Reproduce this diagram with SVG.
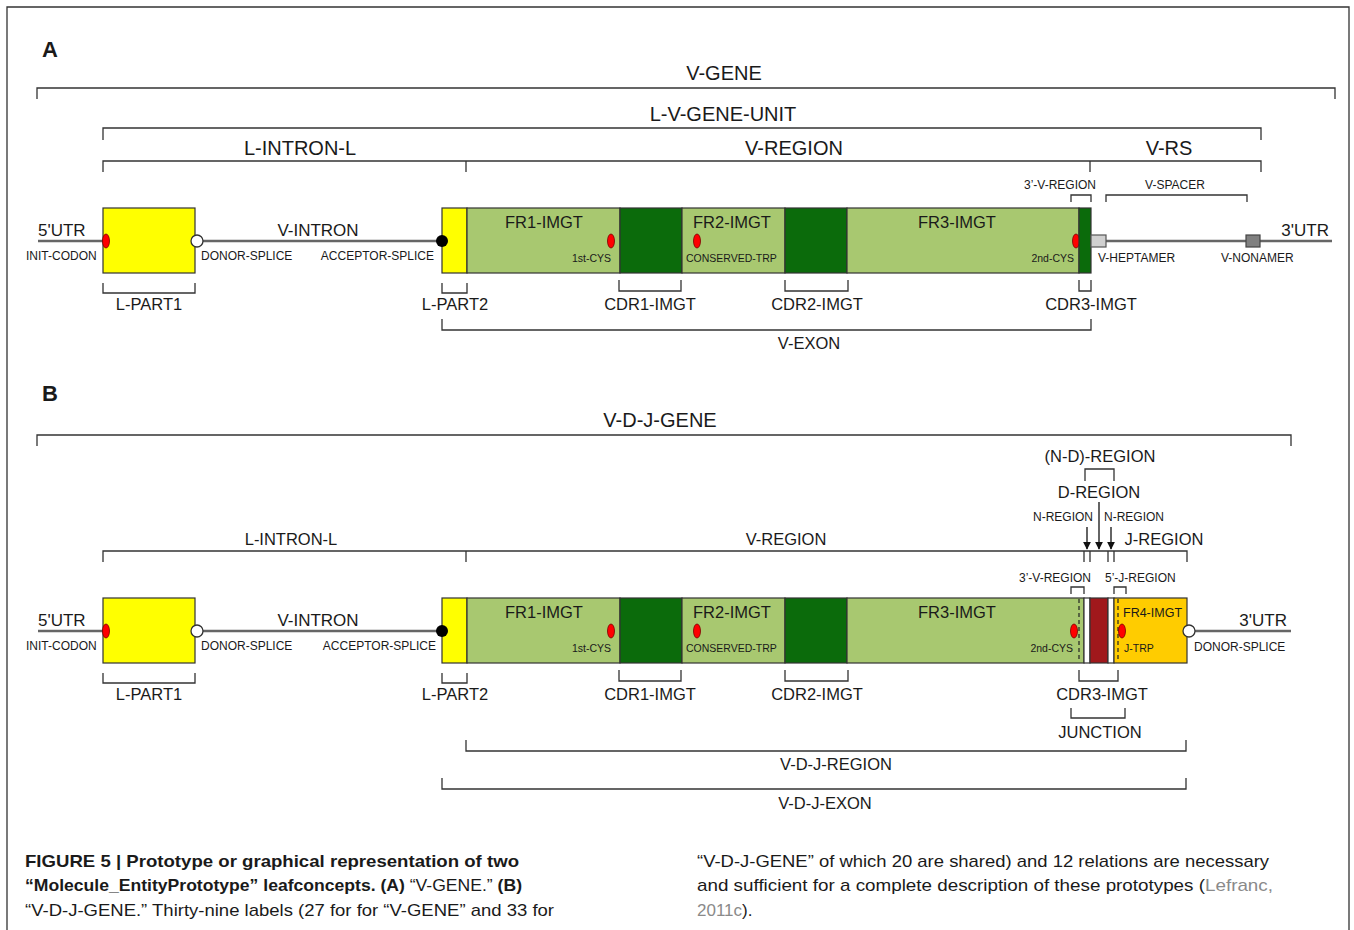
<svg xmlns="http://www.w3.org/2000/svg" width="1354" height="930" viewBox="0 0 1354 930">
<defs>
<style>
text{font-family:"Liberation Sans",Arial,sans-serif;fill:#1a1a1a}
.big{font-size:20px}
.mid{font-size:16.5px}
.sm{font-size:12px}
.xs{font-size:10.5px}
.c{text-anchor:middle}
.e{text-anchor:end}
.br{fill:none;stroke:#333;stroke-width:1.3}
.gl{stroke:#666;stroke-width:2.5}
.box{stroke:#333;stroke-width:1.2}
.yel{fill:#ffff00}
.lg{fill:#a8c870}
.dg{fill:#0b6b0b}
.red{fill:#ff0000;stroke:#7a0000;stroke-width:0.8}
.dash{stroke:#222;stroke-width:1.2;stroke-dasharray:4 3}
.cap{font-size:17px}
.bold{font-weight:bold}
.grey{fill:#8a8a8a}
</style>
<marker id="ah" viewBox="0 0 10 10" refX="9" refY="5" markerWidth="6" markerHeight="6" orient="auto">
<path d="M0,0 L10,5 L0,10 z" fill="#111"/>
</marker>
</defs>
<rect x="0" y="0" width="1354" height="930" fill="#fff"/>
<path d="M7,935 V7 H1349 V935" fill="none" stroke="#333" stroke-width="1.3"/>

<!-- ============ PANEL A ============ -->
<text x="42" y="57" style="font-size:22px;font-weight:bold">A</text>

<g id="connectors-A">
<line class="gl" x1="38" y1="241" x2="1332" y2="241"/>
<path class="br" d="M37,99 V88 H1335 V99"/>
<path class="br" d="M103,140 V128 H1261 V140"/>
<path class="br" d="M103,172 V161 H1261 V172 M466,161 V172 M1090,161 V172"/>
<path class="br" d="M1071,202 V195 H1091 V202"/>
<path class="br" d="M1106,202 V195 H1247 V202"/>
<path class="br" d="M103,283 V293 H195 V283"/>
<path class="br" d="M442,283 V293 H467 V283"/>
<path class="br" d="M619,280 V291 H681 V280"/>
<path class="br" d="M785,280 V291 H848 V280"/>
<path class="br" d="M1079,280 V291 H1091 V280"/>
<path class="br" d="M442,319 V330 H1091 V319"/>
</g>

<g id="labels-A">
<text class="big c" x="724" y="80">V-GENE</text>
<text class="big c" x="723" y="121">L-V-GENE-UNIT</text>
<text class="big c" x="300" y="155">L-INTRON-L</text>
<text class="big c" x="794" y="155">V-REGION</text>
<text class="big c" x="1169" y="155">V-RS</text>
<text class="sm c" x="1060" y="189">3’-V-REGION</text>
<text class="sm c" x="1175" y="189">V-SPACER</text>
<text class="mid" x="38" y="236" style="font-size:17px">5'UTR</text>
<text class="sm" x="26" y="260">INIT-CODON</text>
<text class="sm" x="201" y="260">DONOR-SPLICE</text>
<text class="mid c" x="318" y="236" style="font-size:17px">V-INTRON</text>
<text class="sm e" x="434" y="260">ACCEPTOR-SPLICE</text>
<text class="sm" x="1098" y="262">V-HEPTAMER</text>
<text class="sm" x="1221" y="262">V-NONAMER</text>
<text class="mid e" x="1329" y="236" style="font-size:17px">3'UTR</text>
<text class="mid c" x="149" y="310">L-PART1</text>
<text class="mid c" x="455" y="310">L-PART2</text>
<text class="mid c" x="650" y="310">CDR1-IMGT</text>
<text class="mid c" x="817" y="310">CDR2-IMGT</text>
<text class="mid c" x="1091" y="310">CDR3-IMGT</text>
<text class="mid c" x="809" y="349">V-EXON</text>
</g>

<g id="A-lpart1">
<rect class="box yel" x="103" y="208" width="92" height="65"/>
<ellipse class="red" cx="106" cy="241" rx="3.5" ry="7"/>
<circle cx="197" cy="241" r="6" fill="#fff" stroke="#333" stroke-width="1.3"/>
</g>
<g id="A-lpart2">
<rect class="box yel" x="442" y="208" width="25" height="65"/>
<circle cx="442" cy="241" r="6" fill="#000"/>
</g>
<g id="A-fr1">
<rect class="box lg" x="467" y="208" width="153" height="65"/>
<text class="mid c" x="544" y="228">FR1-IMGT</text>
<ellipse class="red" cx="611" cy="241" rx="3.5" ry="7"/>
<text class="xs e" x="611" y="262">1st-CYS</text>
</g>
<g id="A-cdr1"><rect class="box dg" x="620" y="208" width="62" height="65"/></g>
<g id="A-fr2">
<rect class="box lg" x="682" y="208" width="103" height="65"/>
<text class="mid c" x="732" y="228">FR2-IMGT</text>
<ellipse class="red" cx="697" cy="241" rx="3.5" ry="7"/>
<text class="xs" x="686" y="262">CONSERVED-TRP</text>
</g>
<g id="A-cdr2"><rect class="box dg" x="785" y="208" width="62" height="65"/></g>
<g id="A-fr3">
<rect class="box lg" x="847" y="208" width="232" height="65"/>
<text class="mid c" x="957" y="228">FR3-IMGT</text>
<ellipse class="red" cx="1076" cy="241" rx="3.5" ry="7"/>
<text class="xs e" x="1074" y="262">2nd-CYS</text>
</g>
<g id="A-cdr3"><rect class="box dg" x="1079" y="208" width="12" height="65"/></g>
<g id="A-heptamer"><rect x="1091" y="235" width="15" height="12" fill="#d0d0d0" stroke="#555" stroke-width="1.2"/></g>
<g id="A-nonamer"><rect x="1246" y="235" width="14" height="12" fill="#808080" stroke="#444" stroke-width="1.2"/></g>

<!-- ============ PANEL B ============ -->
<text x="42" y="401" style="font-size:22px;font-weight:bold">B</text>

<g id="connectors-B">
<line class="gl" x1="38" y1="631" x2="1291" y2="631"/>
<path class="br" d="M37,446 V435 H1291 V446"/>
<path class="br" d="M1085,481 V469 H1114 V481"/>
<path class="br" d="M103,562 V551 H1187 V562 M466,551 V562 M1084,551 V562 M1090,551 V562 M1108,551 V562 M1114,551 V562"/>
<path class="br" d="M1071,594 V587 H1084 V594"/>
<path class="br" d="M1114,594 V587 H1126 V594"/>
<line x1="1087" y1="527" x2="1087" y2="549" stroke="#111" stroke-width="1.3" marker-end="url(#ah)"/>
<line x1="1099" y1="502" x2="1099" y2="549" stroke="#111" stroke-width="1.3" marker-end="url(#ah)"/>
<line x1="1111" y1="527" x2="1111" y2="549" stroke="#111" stroke-width="1.3" marker-end="url(#ah)"/>
<path class="br" d="M103,673 V683 H195 V673"/>
<path class="br" d="M442,673 V683 H467 V673"/>
<path class="br" d="M619,670 V681 H681 V670"/>
<path class="br" d="M785,670 V681 H848 V670"/>
<path class="br" d="M1079,670 V681 H1118 V670"/>
<path class="br" d="M1071,708 V718 H1125 V708"/>
<path class="br" d="M466,740 V751 H1186 V740"/>
<path class="br" d="M442,778 V789 H1186 V778"/>
</g>

<g id="labels-B">
<text class="big c" x="660" y="427">V-D-J-GENE</text>
<text class="mid c" x="1100" y="462">(N-D)-REGION</text>
<text class="mid c" x="1099" y="498">D-REGION</text>
<text class="sm e" x="1093" y="521">N-REGION</text>
<text class="sm" x="1104" y="521">N-REGION</text>
<text class="mid c" x="291" y="545">L-INTRON-L</text>
<text class="mid c" x="786" y="545">V-REGION</text>
<text class="mid c" x="1164" y="545">J-REGION</text>
<text class="sm e" x="1091" y="582">3’-V-REGION</text>
<text class="sm" x="1105" y="582">5’-J-REGION</text>
<text class="mid" x="38" y="626" style="font-size:17px">5'UTR</text>
<text class="sm" x="26" y="650">INIT-CODON</text>
<text class="sm" x="201" y="650">DONOR-SPLICE</text>
<text class="mid c" x="318" y="626" style="font-size:17px">V-INTRON</text>
<text class="sm e" x="436" y="650">ACCEPTOR-SPLICE</text>
<text class="mid e" x="1287" y="626" style="font-size:17px">3'UTR</text>
<text class="sm" x="1194" y="651">DONOR-SPLICE</text>
<text class="mid c" x="149" y="700">L-PART1</text>
<text class="mid c" x="455" y="700">L-PART2</text>
<text class="mid c" x="650" y="700">CDR1-IMGT</text>
<text class="mid c" x="817" y="700">CDR2-IMGT</text>
<text class="mid c" x="1102" y="700">CDR3-IMGT</text>
<text class="mid c" x="1100" y="738">JUNCTION</text>
<text class="mid c" x="836" y="770">V-D-J-REGION</text>
<text class="mid c" x="825" y="809">V-D-J-EXON</text>
</g>

<g id="B-lpart1">
<rect class="box yel" x="103" y="598" width="92" height="65"/>
<ellipse class="red" cx="106" cy="631" rx="3.5" ry="7"/>
<circle cx="197" cy="631" r="6" fill="#fff" stroke="#333" stroke-width="1.3"/>
</g>
<g id="B-lpart2">
<rect class="box yel" x="442" y="598" width="25" height="65"/>
<circle cx="442" cy="631" r="6" fill="#000"/>
</g>
<g id="B-fr1">
<rect class="box lg" x="467" y="598" width="153" height="65"/>
<text class="mid c" x="544" y="618">FR1-IMGT</text>
<ellipse class="red" cx="611" cy="631" rx="3.5" ry="7"/>
<text class="xs e" x="611" y="652">1st-CYS</text>
</g>
<g id="B-cdr1"><rect class="box dg" x="620" y="598" width="62" height="65"/></g>
<g id="B-fr2">
<rect class="box lg" x="682" y="598" width="103" height="65"/>
<text class="mid c" x="732" y="618">FR2-IMGT</text>
<ellipse class="red" cx="697" cy="631" rx="3.5" ry="7"/>
<text class="xs" x="686" y="652">CONSERVED-TRP</text>
</g>
<g id="B-cdr2"><rect class="box dg" x="785" y="598" width="62" height="65"/></g>
<g id="B-fr3">
<rect class="box lg" x="847" y="598" width="237" height="65"/>
<text class="mid c" x="957" y="618">FR3-IMGT</text>
<ellipse class="red" cx="1074" cy="631" rx="3.5" ry="7"/>
<text class="xs e" x="1073" y="652">2nd-CYS</text>
<line class="dash" x1="1079" y1="599" x2="1079" y2="662"/>
</g>
<g id="B-n1"><rect class="box" x="1084" y="598" width="6" height="65" fill="#fff"/></g>
<g id="B-d"><rect class="box" x="1090" y="598" width="18" height="65" fill="#a0181c"/></g>
<g id="B-n2"><rect class="box" x="1108" y="598" width="6" height="65" fill="#fff"/></g>
<g id="B-fr4">
<rect class="box" x="1114" y="598" width="73" height="65" fill="#ffcc00"/>
<line class="dash" x1="1118" y1="599" x2="1118" y2="662"/>
<text x="1123" y="617" style="font-size:12.5px">FR4-IMGT</text>
<ellipse class="red" cx="1122" cy="631" rx="3.5" ry="7"/>
<text class="xs" x="1124" y="652">J-TRP</text>
<circle cx="1189" cy="631" r="6" fill="#fff" stroke="#333" stroke-width="1.3"/>
</g>

<!-- ============ CAPTION ============ -->
<g id="caption">
<text class="cap bold" x="25" y="867" textLength="494" lengthAdjust="spacingAndGlyphs">FIGURE 5 | Prototype or graphical representation of two</text>
<text class="cap" x="25" y="891" textLength="497" lengthAdjust="spacingAndGlyphs"><tspan class="bold">“Molecule_EntityPrototype” leafconcepts. (A)</tspan> “V-GENE.” <tspan class="bold">(B)</tspan></text>
<text class="cap" x="25" y="916" textLength="529" lengthAdjust="spacingAndGlyphs">“V-D-J-GENE.” Thirty-nine labels (27 for for “V-GENE” and 33 for</text>
<text class="cap" x="697" y="867" textLength="572" lengthAdjust="spacingAndGlyphs">“V-D-J-GENE” of which 20 are shared) and 12 relations are necessary</text>
<text class="cap" x="697" y="891" textLength="576" lengthAdjust="spacingAndGlyphs">and sufficient for a complete description of these prototypes (<tspan class="grey">Lefranc,</tspan></text>
<text class="cap" x="697" y="916"><tspan class="grey">2011c</tspan>).</text>
</g>
</svg>
